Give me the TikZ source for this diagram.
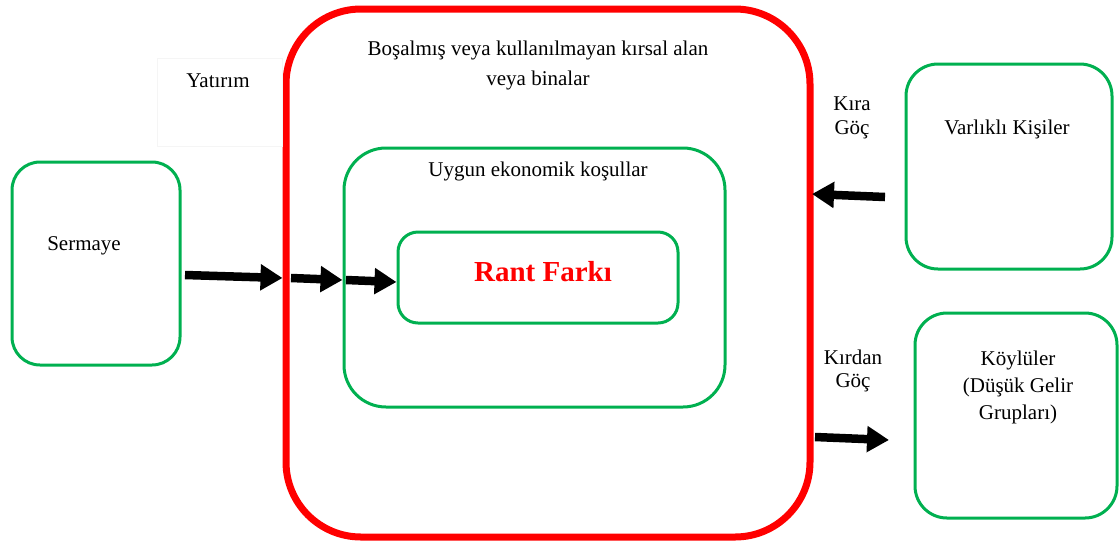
\documentclass[tikz,border=0pt]{standalone}
\usepackage{fontspec}
\setmainfont{Liberation Serif}
\usetikzlibrary{arrows.meta}
\definecolor{boxgreen}{RGB}{0,176,80}
\definecolor{boxred}{RGB}{255,0,0}
\begin{document}
\begin{tikzpicture}[x=1pt,y=-1pt,
  gbox/.style={draw=boxgreen, line width=3pt, inner sep=0pt},
  rbox/.style={draw=boxred, line width=7pt, inner sep=0pt, rounded corners=75pt},
  txt/.style={inner sep=0pt, align=center, font=\fontsize{21}{27}\selectfont},
  bigarrow/.style={line width=8.5pt, -{Triangle[length=22pt,width=25pt]}}
]
\useasboundingbox (0,0) rectangle (1119,542);
% boxes
\node[rbox, minimum width=524pt, minimum height=528pt] (red) at (548,273) {};
\node[gbox, rounded corners=42pt, minimum width=381pt, minimum height=259pt] (uygun) at (534.5,277.5) {};
\node[gbox, rounded corners=20pt, minimum width=280pt, minimum height=91pt] (rant) at (538,277.5) {};
\node[gbox, rounded corners=28pt, minimum width=168pt, minimum height=203pt] (sermaye) at (96,263.5) {};
\node[gbox, rounded corners=32pt, minimum width=206pt, minimum height=205pt] (varlikli) at (1009,166.5) {};
\node[gbox, rounded corners=32pt, minimum width=202pt, minimum height=205pt] (koy) at (1016,415.5) {};
% texts
\node[txt, font=\fontsize{21}{30}\selectfont] (bosalmis) at (538,65) {Boşalmış veya kullanılmayan kırsal alan\\veya binalar};
\node[txt, draw=black!4, line width=0.6pt, minimum width=125pt, minimum height=88pt] (yatirim) at (220,102) {};
\node[txt] (yatirimt) at (218,81) {Yatırım};
\node[txt] (uygunt) at (538,171) {Uygun ekonomik koşullar};
\node[txt, text=boxred, font=\fontsize{29}{34}\selectfont\bfseries] (rantt) at (543,272) {Rant Farkı};
\node[txt] (sermayet) at (84,246) {Sermaye};
\node[txt, font=\fontsize{21}{24}\selectfont] (kira) at (852,118) {Kıra\\Göç};
\node[txt] (varliklit) at (1007,129) {Varlıklı Kişiler};
\node[txt, font=\fontsize{21}{23}\selectfont] (kirdan) at (853,371) {Kırdan\\Göç};
\node[txt] (koyt) at (1018,387) {Köylüler\\(Düşük Gelir\\Grupları)};
% arrows
\coordinate (a1s) at (185,275);
\coordinate (a2s) at (291,278);
\coordinate (a3s) at (346,280);
\coordinate (a4s) at (885,197);
\coordinate (a4e) at (812,194);
\coordinate (a5s) at (815,437);
\coordinate (a5e) at (889,440);
\draw[bigarrow] (a1s) -- (red.west |- 0,278);
\draw[bigarrow] (a2s) -- (uygun.west |- 0,280);
\draw[bigarrow] (a3s) -- (rant.west |- 0,282);
\draw[bigarrow] (a4s) -- (a4e);
\draw[bigarrow] (a5s) -- (a5e);
\end{tikzpicture}
\end{document}
